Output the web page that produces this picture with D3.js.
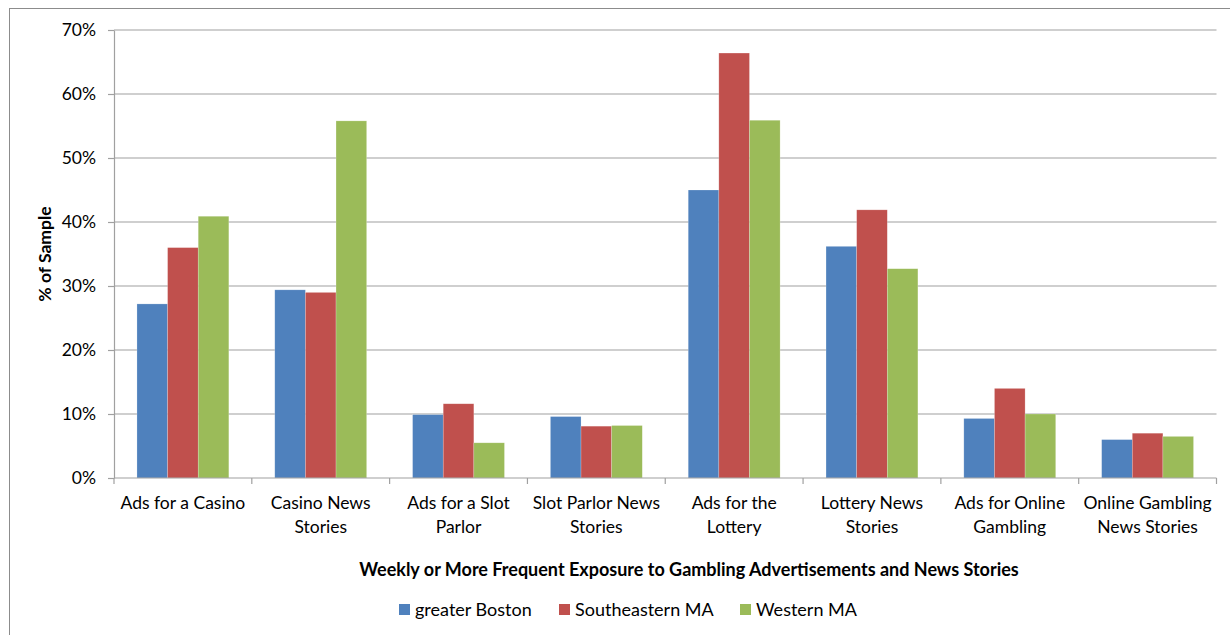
<!DOCTYPE html>
<html><head><meta charset="utf-8">
<script src="https://cdn.jsdelivr.net/npm/d3@7"></script>
<style>body{margin:0;background:#fff}svg{display:block;font-family:Lato,"Open Sans",sans-serif}</style>
</head><body><svg id="c" width="1230" height="635"></svg>
<script>
const categories = [
  ["Ads for a Casino"],
  ["Casino News", "Stories"],
  ["Ads for a Slot", "Parlor"],
  ["Slot Parlor News", "Stories"],
  ["Ads for the", "Lottery"],
  ["Lottery News", "Stories"],
  ["Ads for Online", "Gambling"],
  ["Online Gambling", "News Stories"]
];
const seriesNames = ["greater Boston", "Southeastern MA", "Western MA"];
const greaterBoston = [27.2, 29.4, 9.9, 9.6, 45.0, 36.2, 9.3, 6.0];
const southeastern  = [36.0, 29.0, 11.6, 8.1, 66.4, 41.9, 14.0, 7.0];
const western       = [40.9, 55.8, 5.5, 8.2, 55.9, 32.7, 10.0, 6.5];
const yTicks = [0, 10, 20, 30, 40, 50, 60, 70];
const colors = ["#4F81BD", "#C0504D", "#9BBB59"];
const xTitle = "Weekly or More Frequent Exposure to Gambling Advertisements and News Stories";
const yTitle = "% of Sample";

const svg = d3.select("#c");
const L = 114, R = 1216.5, T = 30, B = 478;
const FS = 17.5;
svg.append("rect").attr("x", 9.5).attr("y", 8.5).attr("width", 1240).attr("height", 640)
  .attr("fill", "none").attr("stroke", "#8c8c8c").attr("stroke-width", 1);

const x0 = d3.scaleBand().domain(d3.range(categories.length)).range([L, R]).paddingInner(0).paddingOuter(0);
const x1 = d3.scaleBand().domain(d3.range(3)).range([0, x0.bandwidth()]).paddingInner(0).paddingOuter(0.75);
const y = d3.scaleLinear().domain([0, 70]).range([B, T]);

svg.append("g").selectAll("line").data(yTicks.filter(d => d > 0)).join("line")
  .attr("x1", L).attr("x2", R).attr("y1", d => y(d)).attr("y2", d => y(d))
  .attr("stroke", "#a0a0a0").attr("stroke-width", 1.2);

const data = [greaterBoston, southeastern, western];
const g = svg.append("g");
categories.forEach((c, i) => {
  data.forEach((s, j) => {
    g.append("rect")
      .attr("x", x0(i) + x1(j))
      .attr("y", y(s[i]))
      .attr("width", x1.bandwidth())
      .attr("height", B - y(s[i]))
      .attr("fill", colors[j])
      .attr("stroke", "rgba(255,255,255,0.35)").attr("stroke-width", 0.6);
  });
});

const yAxis = d3.axisLeft(y).tickValues(yTicks).tickFormat(d => d + "%").tickSize(6).tickSizeOuter(0);
const ya = svg.append("g").attr("transform", `translate(${L},0)`).call(yAxis);
ya.select(".domain").attr("stroke", "#a0a0a0").attr("stroke-width", 1.2);
ya.selectAll(".tick line").attr("stroke", "#a0a0a0").attr("stroke-width", 1.2);
ya.selectAll(".tick text").attr("x", -18).attr("font-size", FS).attr("fill", "#000").attr("font-family", "Lato");

const xa = svg.append("g");
xa.append("line").attr("x1", L).attr("x2", R).attr("y1", B).attr("y2", B).attr("stroke", "#a0a0a0").attr("stroke-width", 1.2);
xa.selectAll("line.t").data(d3.range(categories.length + 1)).join("line").attr("class", "t")
  .attr("x1", i => L + i * x0.step()).attr("x2", i => L + i * x0.step())
  .attr("y1", B).attr("y2", B + 6).attr("stroke", "#a0a0a0").attr("stroke-width", 1.2);
categories.forEach((lines, i) => {
  const cx = x0(i) + x0.bandwidth() / 2;
  const t = xa.append("text").attr("text-anchor", "middle").attr("font-size", FS).attr("fill", "#000")
    .attr("x", cx).attr("y", 509);
  lines.forEach((ln, k) => t.append("tspan").attr("x", cx).attr("dy", k === 0 ? 0 : 24).text(ln));
});

svg.append("text").attr("x", 689).attr("y", 576).attr("text-anchor", "middle")
  .attr("font-size", 18).attr("font-weight", "bold").text(xTitle);
svg.append("text").attr("transform", "translate(51,254) rotate(-90)").attr("text-anchor", "middle")
  .attr("font-size", 17.5).attr("font-weight", "bold").text(yTitle);

const legX = [399, 559, 740];
seriesNames.forEach((n, j) => {
  svg.append("rect").attr("x", legX[j]).attr("y", 604).attr("width", 11).attr("height", 11).attr("fill", colors[j]);
  svg.append("text").attr("x", legX[j] + 16).attr("y", 615.5).attr("font-size", 18).text(n);
});
</script></body></html>
